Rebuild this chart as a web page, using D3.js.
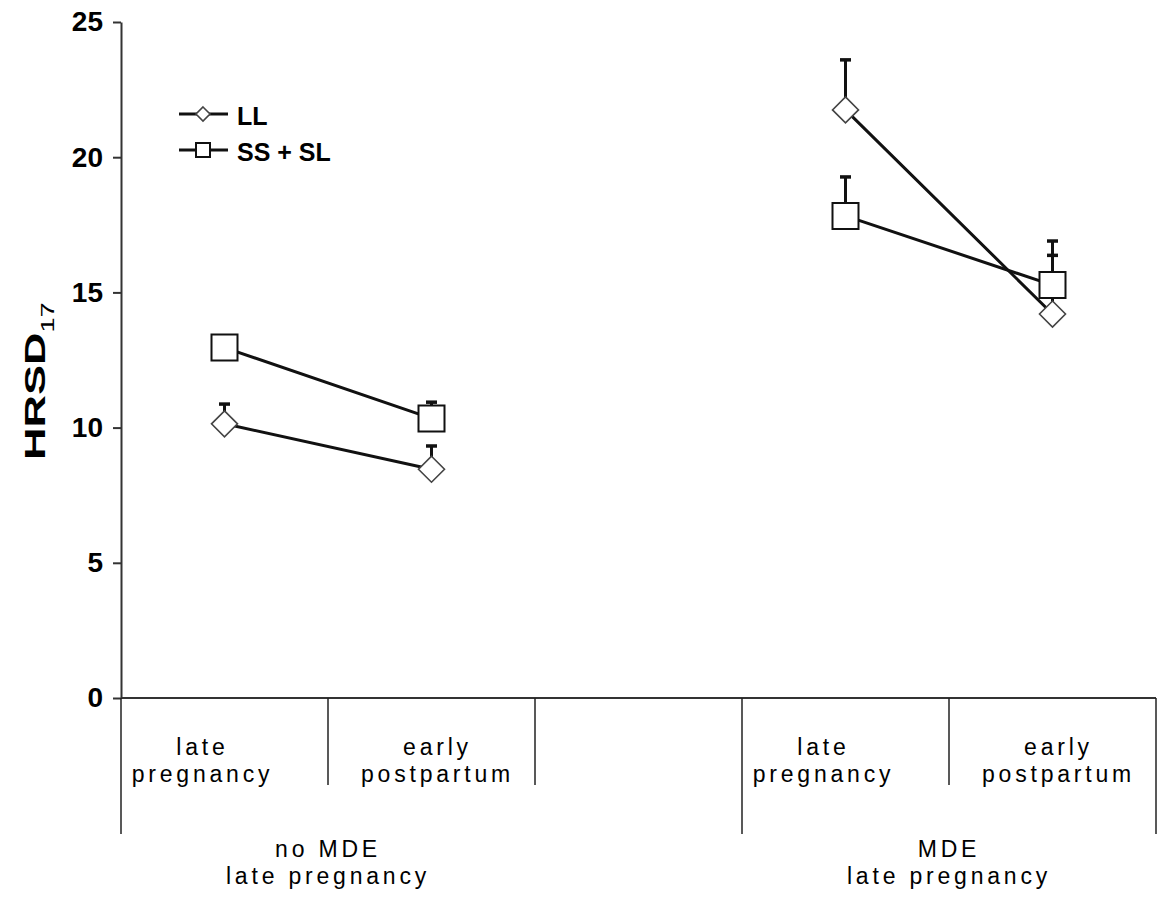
<!DOCTYPE html>
<html><head><meta charset="utf-8">
<script src="https://cdn.jsdelivr.net/npm/d3@7"></script>
<style>body{margin:0;background:#fff} svg{display:block}</style>
</head><body>
<svg id="chart" width="1157" height="899"></svg>
<script>
// ---- data ----
const categories = ["late pregnancy", "early postpartum", "", "late pregnancy", "early postpartum"];
const groupOfCategory = [0, 0, 0, 1, 1];
const groupLabels = ["no MDE", "MDE"];
const groupSubLabels = ["late pregnancy", "late pregnancy"];
const seriesNames = ["LL", "SS + SL"];
const llMeans = [10.14, 8.46, null, 21.75, 14.2];
const llErr = [0.73, 0.86, null, 1.85, 2.7];
const ssMeans = [12.96, 10.34, null, 17.83, 15.27];
const ssErr = [0.4, 0.6, null, 1.44, 1.1];
const yTicks = [0, 5, 10, 15, 20, 25];
const yTitle = "HRSD";
const yTitleSub = "17";

// ---- layout ----
(function () {
const mLeft = 121, mRight = 1156, mTop = 22, mBottom = 698;
const catLabelBottom = 785, groupLineBottom = 834;
const FONT = "'Liberation Sans', Arial, Helvetica, sans-serif";
const labelShift = {"late pregnancy": -22, "early postpartum": 6};

const svg = d3.select("#chart");
const x = d3.scaleBand().domain(d3.range(categories.length)).range([mLeft, mRight]).padding(0);
const cx = i => x(i) + x.bandwidth() / 2;
const y = d3.scaleLinear().domain([0, 25]).range([mBottom, mTop]);

// y axis
const yAxis = d3.axisLeft(y).tickValues(yTicks).tickFormat(d3.format("d")).tickSize(8).tickSizeOuter(0).tickPadding(10);
const gy = svg.append("g").attr("transform", `translate(${mLeft},0)`).call(yAxis);
gy.select(".domain").attr("stroke", "#333").attr("stroke-width", 2);
gy.selectAll(".tick line").attr("stroke", "#333").attr("stroke-width", 2);
gy.selectAll(".tick text").attr("font-family", FONT).attr("font-size", 28).attr("font-weight", "bold").attr("fill", "#000");

// x axis baseline
svg.append("line").attr("x1", mLeft).attr("x2", mRight).attr("y1", y(0)).attr("y2", y(0))
  .attr("stroke", "#333").attr("stroke-width", 2);

// category dividers
d3.range(categories.length + 1).forEach(b => {
  const xb = b < categories.length ? x(b) : x.range()[1];
  const isGroup = b === 0 || b === categories.length || groupOfCategory[b] !== groupOfCategory[b - 1];
  svg.append("line").attr("x1", xb).attr("x2", xb).attr("y1", y(0))
    .attr("y2", isGroup ? groupLineBottom : catLabelBottom)
    .attr("stroke", "#222").attr("stroke-width", 1.5);
});

// category labels
categories.forEach((c, i) => {
  if (!c) return;
  const parts = c.split(" ");
  const t = svg.append("text").attr("text-anchor", "middle").attr("font-family", FONT)
    .attr("font-size", 23).attr("letter-spacing", 3.8).attr("fill", "#000");
  const xx = cx(i) + (labelShift[c] || 0);
  t.append("tspan").attr("x", xx).attr("y", 755).text(parts[0]);
  t.append("tspan").attr("x", xx).attr("y", 782).text(parts.slice(1).join(" "));
});

// group labels (centered over non-empty categories)
groupLabels.forEach((g, gi) => {
  const idx = d3.range(categories.length).filter(i => groupOfCategory[i] === gi && categories[i]);
  const x0 = x(d3.min(idx)), x1 = x(d3.max(idx)) + x.bandwidth();
  const xm = (x0 + x1) / 2;
  const t = svg.append("text").attr("text-anchor", "middle").attr("font-family", FONT)
    .attr("font-size", 23).attr("letter-spacing", 3.8).attr("fill", "#000");
  t.append("tspan").attr("x", xm).attr("y", 857).text(g);
  t.append("tspan").attr("x", xm).attr("y", 884).text(groupSubLabels[gi]);
});

// y title
const tg = svg.append("g").attr("transform", "translate(45,460) rotate(-90)");
const tt = tg.append("text").attr("transform", "scale(1.5,1)").attr("font-family", FONT)
  .attr("font-size", 30).attr("font-weight", "bold").attr("fill", "#000");
tt.append("tspan").text(yTitle);
tt.append("tspan").attr("font-size", 18).attr("font-weight", "normal").attr("dy", 9).text(yTitleSub);

// marker paths
const diamond = r => `M0,${-r}L${r},0L0,${r}L${-r},0Z`;
const square = s => `M${-s/2},${-s/2}H${s/2}V${s/2}H${-s/2}Z`;
const series = [
  {name: seriesNames[0], means: llMeans, err: llErr, shape: diamond(13), legendShape: diamond(7), stroke: "#444", sw: 1.6},
  {name: seriesNames[1], means: ssMeans, err: ssErr, shape: square(26), legendShape: square(14), stroke: "#111", sw: 2}
];

const line = d3.line().defined(d => d.v != null).x(d => cx(d.i)).y(d => y(d.v));

series.forEach(s => {
  const pts = s.means.map((v, i) => ({i, v, e: s.err[i]}));
  svg.append("path").datum(pts).attr("d", line).attr("fill", "none")
    .attr("stroke", "#111").attr("stroke-width", 3);
  const valid = pts.filter(d => d.v != null);
  svg.selectAll(null).data(valid).enter().append("line")
    .attr("x1", d => cx(d.i)).attr("x2", d => cx(d.i))
    .attr("y1", d => y(d.v)).attr("y2", d => y(d.v + d.e))
    .attr("stroke", "#111").attr("stroke-width", 3);
  svg.selectAll(null).data(valid).enter().append("line")
    .attr("x1", d => cx(d.i) - 5.5).attr("x2", d => cx(d.i) + 5.5)
    .attr("y1", d => y(d.v + d.e)).attr("y2", d => y(d.v + d.e))
    .attr("stroke", "#111").attr("stroke-width", 3.5);
  svg.selectAll(null).data(valid).enter().append("path")
    .attr("d", s.shape).attr("transform", d => `translate(${cx(d.i)},${y(d.v)})`)
    .attr("fill", "#fff").attr("stroke", s.stroke).attr("stroke-width", s.sw);
});

// legend
const legendRows = [114, 150];
series.forEach((s, k) => {
  const ly = legendRows[k];
  svg.append("line").attr("x1", 179).attr("x2", 228).attr("y1", ly).attr("y2", ly)
    .attr("stroke", "#111").attr("stroke-width", 3);
  svg.append("path").attr("d", s.legendShape).attr("transform", `translate(203,${ly})`)
    .attr("fill", "#fff").attr("stroke", s.stroke).attr("stroke-width", s.sw);
  svg.append("text").attr("x", 237).attr("y", ly + 11).attr("font-family", FONT)
    .attr("font-size", 25).attr("font-weight", "bold").attr("fill", "#000").text(s.name);
});
})();
</script>
</body></html>
